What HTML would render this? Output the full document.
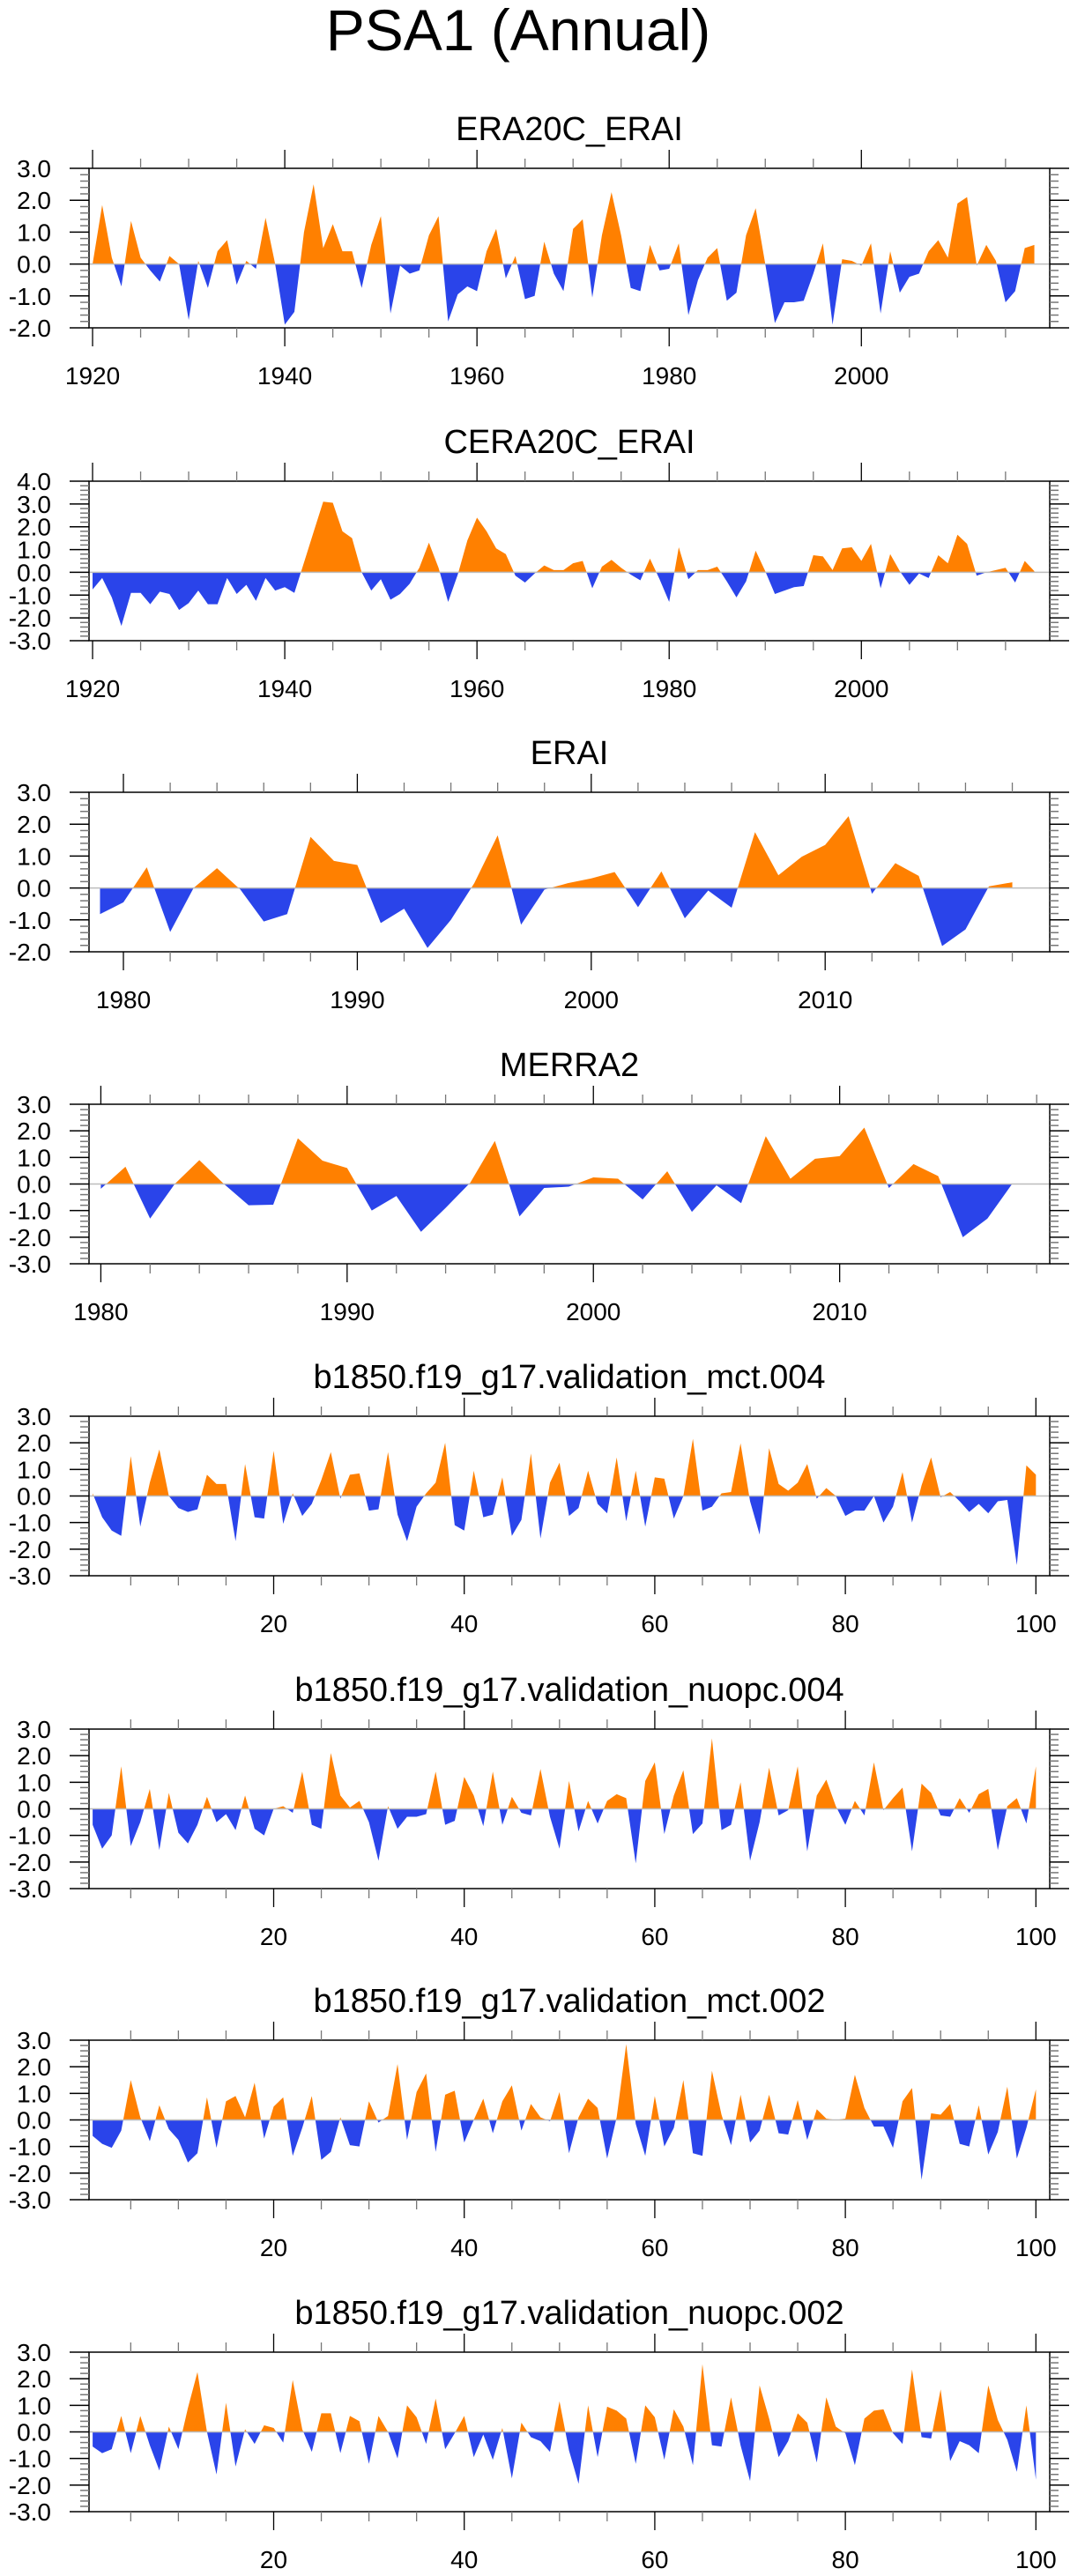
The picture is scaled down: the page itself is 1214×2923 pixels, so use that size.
<!DOCTYPE html>
<html><head><meta charset="utf-8"><title>PSA1 (Annual)</title>
<style>
html,body{margin:0;padding:0;background:#fff;}
svg{display:block;font-family:"Liberation Sans",Arial,sans-serif;}
</style></head>
<body>
<svg id="fig" width="1214" height="2923" viewBox="0 0 1214 2923" xmlns="http://www.w3.org/2000/svg">
<text x="588" y="57" font-size="66" text-anchor="middle">PSA1 (Annual)</text>
</svg>
<script>
// ---- data ----
const titles = ["ERA20C_ERAI","CERA20C_ERAI","ERAI","MERRA2",
 "b1850.f19_g17.validation_mct.004","b1850.f19_g17.validation_nuopc.004",
 "b1850.f19_g17.validation_mct.002","b1850.f19_g17.validation_nuopc.002"];
const startX = [1920,1920,1979,1980,1,1,1,1];
const era20c = [0,1.85,0.2,-0.7,1.35,0.2,-0.2,-0.55,0.25,0,-1.75,0.1,-0.75,0.4,0.75,-0.65,0.1,-0.15,1.45,0,-1.9,-1.5,1.0,2.5,0.5,1.25,0.4,0.4,-0.75,0.6,1.5,-1.55,-0.05,-0.3,-0.2,0.9,1.5,-1.8,-0.95,-0.7,-0.85,0.4,1.1,-0.45,0.25,-1.1,-1.0,0.7,-0.3,-0.85,1.1,1.4,-1.05,0.9,2.25,0.9,-0.75,-0.85,0.6,-0.2,-0.15,0.65,-1.6,-0.5,0.2,0.5,-1.15,-0.9,0.9,1.75,0,-1.85,-1.2,-1.2,-1.15,-0.3,0.65,-1.9,0.15,0.1,-0.05,0.65,-1.55,0.4,-0.9,-0.4,-0.3,0.4,0.75,0.2,1.9,2.1,-0.05,0.6,0.1,-1.2,-0.85,0.5,0.6];
const cera20c = [-0.75,-0.25,-1.1,-2.35,-0.9,-0.9,-1.4,-0.85,-0.95,-1.65,-1.35,-0.8,-1.4,-1.4,-0.25,-0.95,-0.55,-1.25,-0.25,-0.8,-0.65,-0.9,0.43,1.77,3.1,3.05,1.8,1.5,0,-0.8,-0.3,-1.2,-0.95,-0.5,0.2,1.3,0.2,-1.3,-0.1,1.4,2.4,1.8,1.05,0.8,-0.15,-0.45,-0.05,0.3,0.1,0.1,0.4,0.5,-0.7,0.25,0.55,0.2,-0.1,-0.35,0.6,-0.3,-1.3,1.1,-0.3,0.1,0.1,0.25,-0.4,-1.1,-0.4,0.95,0.05,-0.95,-0.8,-0.65,-0.6,0.75,0.7,0.1,1.05,1.1,0.5,1.25,-0.7,0.8,0.05,-0.55,-0.05,-0.25,0.75,0.4,1.65,1.25,-0.15,0,0.1,0.2,-0.45,0.5,0.05];
const erai = [-0.82,-0.45,0.65,-1.38,0,0.62,-0.05,-1.05,-0.82,1.6,0.85,0.72,-1.1,-0.65,-1.88,-1.0,0.15,1.65,-1.15,-0.05,0.15,0.3,0.5,-0.6,0.52,-0.95,-0.08,-0.62,1.75,0.4,0.98,1.35,2.25,-0.18,0.78,0.38,-1.82,-1.3,0.05,0.18];
const merra2 = [-0.18,0.65,-1.3,0,0.9,0,-0.8,-0.78,1.72,0.88,0.6,-1.0,-0.45,-1.8,-0.9,0.05,1.62,-1.22,-0.15,-0.1,0.25,0.2,-0.58,0.48,-1.05,-0.05,-0.72,1.8,0.2,0.95,1.05,2.12,-0.15,0.75,0.3,-2.0,-1.3,0];
const mct004 = [0.1,-0.8,-1.3,-1.5,1.5,-1.15,0.5,1.75,0,-0.45,-0.6,-0.5,0.8,0.45,0.45,-1.7,1.2,-0.8,-0.85,1.7,-1.05,0.1,-0.75,-0.3,0.6,1.65,-0.1,0.8,0.85,-0.55,-0.5,1.65,-0.7,-1.7,-0.4,0.1,0.5,2.0,-1.1,-1.3,0.95,-0.8,-0.7,0.7,-1.5,-0.9,1.6,-1.6,0.5,1.25,-0.75,-0.45,0.95,-0.3,-0.65,1.45,-0.95,0.95,-1.15,0.7,0.65,-0.85,0,2.15,-0.55,-0.4,0.1,0.15,1.98,-0.2,-1.45,1.8,0.45,0.2,0.5,1.2,-0.1,0.3,0,-0.75,-0.55,-0.55,0,-1.0,-0.4,0.9,-1.0,0.4,1.45,-0.05,0.15,-0.2,-0.6,-0.3,-0.65,-0.2,-0.15,-2.6,1.15,0.8];
const nuopc004 = [-0.6,-1.5,-1.0,1.6,-1.4,-0.5,0.75,-1.55,0.6,-0.9,-1.3,-0.6,0.45,-0.5,-0.2,-0.8,0.5,-0.75,-1.0,0,0.1,-0.15,1.4,-0.6,-0.75,2.1,0.5,0.05,0.3,-0.5,-1.95,0.1,-0.75,-0.3,-0.3,-0.2,1.4,-0.6,-0.45,1.2,0.5,-0.65,1.4,-0.6,0.45,-0.15,-0.25,1.5,-0.3,-1.5,1.05,-0.85,0.3,-0.55,0.3,0.55,0.4,-2.05,1.05,1.75,-0.95,0.5,1.45,-0.95,-0.55,2.65,-0.8,-0.6,1.0,-1.95,-0.5,1.55,-0.25,-0.05,1.6,-1.6,0.5,1.1,0.1,-0.6,0.3,-0.25,1.75,-0.05,0.4,0.8,-1.6,0.95,0.6,-0.25,-0.3,0.4,-0.15,0.55,0.75,-1.55,0.1,0.4,-0.55,1.6];
const mct002 = [-0.6,-0.9,-1.05,-0.4,1.5,0.1,-0.8,0.55,-0.35,-0.75,-1.6,-1.25,0.85,-1.05,0.7,0.9,0.1,1.4,-0.7,0.5,0.85,-1.35,-0.3,0.9,-1.5,-1.2,0.1,-0.95,-1.0,0.7,-0.1,0.15,2.1,-0.75,1.05,1.75,-1.2,0.95,1.1,-0.85,0,0.8,-0.5,0.7,1.3,-0.4,0.6,0.1,-0.05,1.05,-1.25,0.1,0.8,0.45,-1.45,0.1,2.85,-0.15,-1.35,0.9,-1.0,-0.3,1.5,-1.25,-1.35,1.85,0.2,-0.95,0.95,-0.85,-0.4,0.95,-0.5,-0.55,0.75,-0.75,0.4,0.05,0,0.05,1.7,0.45,-0.25,-0.25,-1.05,0.7,1.2,-2.25,0.25,0.2,0.6,-0.9,-1.0,0.55,-1.3,-0.45,1.25,-1.45,-0.3,1.15];
const nuopc002 = [-0.55,-0.8,-0.65,0.6,-0.8,0.6,-0.5,-1.45,0.2,-0.65,0.9,2.25,0,-1.6,1.1,-1.3,0.1,-0.45,0.25,0.15,-0.4,1.95,0.1,-0.75,0.7,0.7,-0.8,0.6,0.4,-1.2,0.6,0,-1.0,1.0,0.55,-0.45,1.25,-0.65,-0.05,0.6,-0.95,-0.1,-1.05,0.15,-1.75,0.35,-0.2,-0.35,-0.75,1.15,-0.7,-1.95,1.0,-0.95,0.95,0.8,0.5,-1.2,1.0,0.55,-1.05,0.85,0.2,-1.25,2.55,-0.5,-0.55,1.3,-0.5,-1.85,1.75,0.5,-0.95,-0.35,0.7,0.35,-1.15,1.3,0.2,-0.05,-1.25,0.5,0.8,0.85,-0.05,-0.45,2.35,-0.2,-0.25,1.6,-1.1,-0.35,-0.5,-0.8,1.75,0.45,-0.3,-1.5,1.0,-1.8];
const seriesList = [era20c,cera20c,erai,merra2,mct004,nuopc004,mct002,nuopc002];
const yMinList = [-2,-3,-2,-3,-3,-3,-3,-3];
const yMaxList = [3,4,3,3,3,3,3,3];

// ---- layout (not data) ----
const panelTops = [191,546,899,1253,1607,1962,2315,2669];
const xMinList = [1919.63,1919.63,1978.53,1979.52,0.62,0.62,0.62,0.62];
const xMaxList = [2019.6,2019.6,2019.6,2018.53,101.45,101.45,101.45,101.45];
const majorStep = [20,20,10,10,20,20,20,20];
const minorStep = [5,5,2,2,5,5,5,5];
const L=101, R=1191, H=181;
const ORANGE="#ff8000", BLUE="#2a44ea";
const NS="http://www.w3.org/2000/svg";
const svg=document.getElementById('fig');
function mk(tag,attrs,parent){const e=document.createElementNS(NS,tag);for(const k in attrs)e.setAttribute(k,attrs[k]);(parent||svg).appendChild(e);return e;}
function fmt(v){return (Math.abs(v)<1e-9?0:v).toFixed(1);}

seriesList.forEach((vals,p)=>{
  const top=panelTops[p], bot=top+H;
  const x0=xMinList[p], x1=xMaxList[p], y0=yMinList[p], y1=yMaxList[p];
  const xs=v=>L+(v-x0)/(x1-x0)*(R-L);
  const ys=v=>bot-(v-y0)/(y1-y0)*H;
  const g=mk('g',{});
  
  
  const t=mk('text',{x:(L+R)/2,y:top-32,'font-size':38,'text-anchor':'middle'},g);
  t.textContent=titles[p];
  
  
  const cid='c'+p;
  const defs=mk('defs',{},g);
  const cpPos=mk('clipPath',{id:cid+'p'},defs);
  mk('rect',{x:L,y:top,width:R-L,height:ys(0)-top},cpPos);
  const cpNeg=mk('clipPath',{id:cid+'n'},defs);
  mk('rect',{x:L,y:ys(0),width:R-L,height:bot-ys(0)},cpNeg);
  let d='M'+xs(startX[p]).toFixed(2)+','+ys(0).toFixed(2);
  vals.forEach((v,i)=>{d+=' L'+xs(startX[p]+i).toFixed(2)+','+ys(v).toFixed(2);});
  d+=' L'+xs(startX[p]+vals.length-1).toFixed(2)+','+ys(0).toFixed(2)+' Z';
  const ap=mk('path',{d:d,fill:ORANGE,'clip-path':'url(#'+cid+'p)'},g);
  
  
  const an=mk('path',{d:d,fill:BLUE,'clip-path':'url(#'+cid+'n)'},g);
  
  
  const zl=mk('line',{x1:L,x2:R,y1:ys(0),y2:ys(0),stroke:'#bdbdbd','stroke-width':1.5},g);
  
  
  mk('rect',{x:L,y:top,width:R-L,height:H,fill:'none',stroke:'#000','stroke-width':1.5},g);
  for(let k=Math.round(y0*5);k<=Math.round(y1*5);k++){
    const v=k/5, y=ys(v), major=(k%5===0);
    const len=major?22:10, col=major?'#000':'#777';
    mk('line',{x1:L-len,x2:L,y1:y,y2:y,stroke:col,'stroke-width':1.5},g);
    mk('line',{x1:R,x2:R+len,y1:y,y2:y,stroke:col,'stroke-width':1.5},g);
    if(major){
      const lb=mk('text',{x:58,y:y+10,'font-size':28,'text-anchor':'end'},g);
      lb.textContent=fmt(v);
      
      
    }
  }
  const ms=minorStep[p], MS=majorStep[p];
  for(let v=Math.ceil(x0/ms)*ms; v<=x1; v+=ms){
    const x=xs(v), major=(v%MS===0);
    const len=major?21:11, col=major?'#000':'#777';
    mk('line',{x1:x,x2:x,y1:top-len,y2:top,stroke:col,'stroke-width':1.3},g);
    mk('line',{x1:x,x2:x,y1:bot,y2:bot+len,stroke:col,'stroke-width':1.3},g);
    if(major){
      const lb=mk('text',{x:x,y:bot+64,'font-size':28,'text-anchor':'middle'},g);
      lb.textContent=String(v);
      
      
    }
  }
});
</script>
</body></html>
